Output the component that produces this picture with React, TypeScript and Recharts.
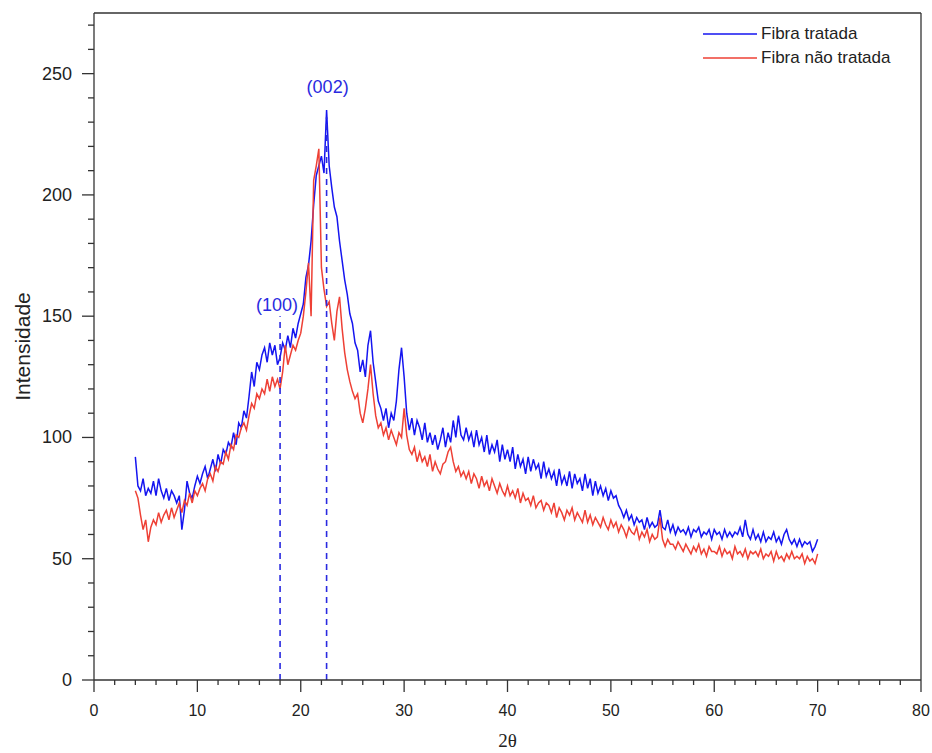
import { LineChart, Line, XAxis, YAxis, ReferenceLine, ReferenceDot } from "recharts";

// XRD scan: first angle and step (2θ, degrees)
const START_ANGLE = 4;
const STEP = 0.25;

// Fibra tratada, every 0.25°
const tratada = [
  92, 80, 78, 83, 76, 79, 77, 82,
  76, 83, 78, 75, 79, 74, 78, 76,
  73, 76, 62, 70, 82, 77, 75, 80,
  84, 81, 85, 88, 83, 87, 91, 86,
  93, 89, 95, 93, 98, 96, 102, 97,
  106, 104, 111, 108, 117, 127, 121, 131,
  128, 134, 137, 131, 139, 134, 138, 130,
  133, 139, 136, 142, 137, 145, 141, 147,
  151, 155, 166, 171, 181, 196, 208, 212,
  216, 209, 235, 212, 203, 195, 191, 181,
  173, 165, 159, 151, 147, 139, 136, 127,
  132, 125, 138, 144, 131, 123, 115, 112,
  107, 112, 104, 110, 107, 115, 128, 137,
  125, 110, 103, 108, 101, 107, 104, 99,
  106, 98, 102, 97, 101, 95, 99, 104,
  96, 102, 98, 107, 100, 109, 101, 99,
  104, 99, 102, 96, 103, 97, 100, 94,
  101, 93, 97, 94, 99, 90, 97, 91,
  95, 90, 96, 87, 93, 88, 91, 85,
  92, 86, 91, 87, 89, 83, 90, 84,
  87, 83, 86, 80, 87, 81, 84, 80,
  86, 79, 85, 81, 83, 78, 85, 79,
  83, 76, 82, 77, 80, 76, 79, 74,
  78, 75, 76, 72, 70, 67, 70, 66,
  68, 64, 67, 65, 66, 62, 67, 63,
  65, 63, 64, 70, 63, 62, 66, 61,
  64, 60, 63, 61, 62, 60, 63, 59,
  62, 61, 63, 59, 61, 60, 62, 58,
  62, 60, 61, 58, 62, 59, 61, 59,
  61, 60, 63, 59, 66, 60, 58, 62,
  58, 60, 57, 61, 57, 59, 58, 61,
  57, 59, 56, 60, 62, 58, 56, 58,
  55, 58, 55, 57, 56, 57, 53, 55,
  58,
];

// Fibra não tratada
const naoTratada = [
  78, 75, 68, 62, 66, 57, 63, 66,
  64, 69, 65, 68, 70, 66, 71, 67,
  70, 73, 69, 74, 72, 77, 73, 78,
  76, 79, 81, 78, 83, 85, 82, 88,
  86, 90, 89, 94, 91, 97, 95, 101,
  100, 104, 106, 103, 109, 114, 112, 118,
  116, 120, 118, 124, 119, 125, 121, 124,
  120, 127, 138, 130, 134, 138, 136, 140,
  143, 150, 160, 172, 150, 206, 212, 219,
  170, 161, 154, 156, 147, 140, 152, 158,
  145, 135, 128, 123, 119, 116, 118, 110,
  106, 112, 120, 130, 118, 109, 104, 106,
  101, 104, 99, 103, 100, 97, 102, 100,
  112, 101, 95, 93, 96, 90, 94, 90,
  92, 88, 93, 86, 90, 87, 85, 89,
  90, 94, 96, 90, 86, 88, 84, 86,
  83, 86, 81, 85, 83, 79, 84, 80,
  82, 78, 83, 80, 77, 81, 78, 76,
  80, 76, 78, 75, 79, 73, 77, 74,
  75, 72, 76, 71, 73, 74, 70, 73,
  72, 69, 73, 67, 71, 69, 66, 70,
  68, 71, 66, 69, 67, 65, 70, 65,
  68, 64, 67, 65, 63, 67, 64, 62,
  66, 63, 65, 61, 64, 62, 59, 63,
  61, 60, 63, 58, 61, 59, 62, 57,
  60, 58, 59, 67, 58, 55, 58, 56,
  56, 54, 57, 55, 53, 56, 54, 52,
  55, 53, 56, 52, 54, 51, 55, 53,
  53, 52, 55, 51, 54, 52, 53, 50,
  55, 52, 53, 51, 54, 50, 53, 52,
  53, 51, 54, 50, 52, 51, 53, 49,
  53, 50, 51, 49, 52, 50, 53, 50,
  51, 50, 52, 48, 51, 49, 50, 48,
  52,
];

// all x ticks (minor every 2, labelled every 10)
const xTicks = [0, 2, 4, 6, 8, 10, 12, 14, 16, 18, 20, 22, 24, 26, 28, 30, 32, 34, 36, 38, 40, 42, 44, 46, 48, 50, 52, 54, 56, 58, 60, 62, 64, 66, 68, 70, 72, 74, 76, 78, 80];
// all y ticks (minor every 10, labelled every 50)
const yTicks = [0, 10, 20, 30, 40, 50, 60, 70, 80, 90, 100, 110, 120, 130, 140, 150, 160, 170, 180, 190, 200, 210, 220, 230, 240, 250, 260, 270];

// Miller indices with their 2θ and dashed-line height
const peakLabels = ["(100)", "(002)"];
const peakAngles = [18, 22.5];
const peakTops = [150, 232];

const BLUE = "#1515f0";
const RED = "#ee4035";
const AXIS = "#333";

const data = tratada.map((v, i) => ({
  angle: START_ANGLE + i * STEP,
  tratada: v,
  naoTratada: naoTratada[i],
}));

function XTick({ x, y, payload }: any) {
  const major = payload.value % 10 === 0;
  return (
    <g>
      <line x1={x} x2={x} y1={y} y2={y + (major ? 12 : 5)} stroke={AXIS} strokeWidth={1.3} />
      {major && (
        <text x={x} y={y + 30} textAnchor="middle" dominantBaseline="central" fontSize={16} fill="#222">
          {payload.value}
        </text>
      )}
    </g>
  );
}

function YTick({ x, y, payload }: any) {
  const major = payload.value % 50 === 0;
  return (
    <g>
      <line x1={x - (major ? 12 : 6)} x2={x} y1={y} y2={y} stroke={AXIS} strokeWidth={1.3} />
      {major && (
        <text x={x - 22} y={y} textAnchor="end" dominantBaseline="central" fontSize={18} fill="#222">
          {payload.value}
        </text>
      )}
    </g>
  );
}

const legendItems = [
  { name: "Fibra tratada", color: BLUE },
  { name: "Fibra não tratada", color: RED },
];

function LegendBox() {
  return (
    <div style={{ position: "absolute", left: 703, top: 22 }}>
      {legendItems.map((it) => (
        <div key={it.name} style={{ display: "flex", alignItems: "center", height: 24 }}>
          <svg width={54} height={4} style={{ marginRight: 4 }}>
            <line x1={0} x2={54} y1={2} y2={2} stroke={it.color} strokeWidth={1.6} />
          </svg>
          <span style={{ fontSize: 17, color: "#222" }}>{it.name}</span>
        </div>
      ))}
    </div>
  );
}

export default function App() {
  return (
    <div
      style={{
        position: "absolute",
        left: 0,
        top: 0,
        width: 932,
        height: 753,
        background: "#fff",
        fontFamily: "'Liberation Sans', Arial, sans-serif",
      }}
    >
      <LineChart width={932} height={753} data={data} margin={{ top: 13, right: 11, left: 0, bottom: 43 }}>
        <XAxis
          dataKey="angle"
          type="number"
          domain={[0, 80]}
          ticks={xTicks}
          interval={0}
          tickSize={0}
          tickMargin={0}
          tickLine={false}
          tick={XTick}
          height={30}
          axisLine={{ stroke: AXIS, strokeWidth: 1.3 }}
          label={(p: any) => (
            <text
              x={p.viewBox.x + p.viewBox.width / 2}
              y={p.viewBox.y + 60}
              textAnchor="middle"
              dominantBaseline="central"
              fontSize={19}
              fontFamily="'Liberation Serif', serif"
              fill="#222"
            >
              2θ
            </text>
          )}
        />
        <YAxis
          type="number"
          domain={[0, 275]}
          ticks={yTicks}
          interval={0}
          tickSize={0}
          tickMargin={0}
          tickLine={false}
          tick={YTick}
          width={94}
          axisLine={{ stroke: AXIS, strokeWidth: 1.3 }}
          label={(p: any) => (
            <text
              x={22}
              y={p.viewBox.y + p.viewBox.height / 2}
              transform={`rotate(-90, 22, ${p.viewBox.y + p.viewBox.height / 2})`}
              textAnchor="middle"
              dominantBaseline="central"
              fontSize={21}
              fill="#222"
            >
              Intensidade
            </text>
          )}
        />
        <ReferenceLine y={275} stroke={AXIS} strokeWidth={1.3} />
        <ReferenceLine x={80} stroke={AXIS} strokeWidth={1.3} />
        <Line
          dataKey="tratada"
          name="Fibra tratada"
          stroke={BLUE}
          strokeWidth={1.5}
          dot={false}
          type="linear"
          isAnimationActive={false}
        />
        <Line
          dataKey="naoTratada"
          name="Fibra não tratada"
          stroke={RED}
          strokeWidth={1.5}
          dot={false}
          type="linear"
          isAnimationActive={false}
        />
        {peakAngles.map((a, i) => (
          <ReferenceLine
            key={peakLabels[i]}
            segment={[
              { x: a, y: 0 },
              { x: a, y: peakTops[i] },
            ]}
            stroke="#2a2ae0"
            strokeWidth={1.6}
            strokeDasharray="6 5"
          />
        ))}
        <ReferenceDot
          x={17.7}
          y={150}
          r={0}
          stroke="none"
          fill="none"
          label={{ value: peakLabels[0], position: "top", fill: "#2a2ae0", fontSize: 18 }}
        />
        <ReferenceDot
          x={22.6}
          y={240}
          r={0}
          stroke="none"
          fill="none"
          label={{ value: peakLabels[1], position: "top", fill: "#2a2ae0", fontSize: 18 }}
        />
      </LineChart>
      <LegendBox />
    </div>
  );
}
